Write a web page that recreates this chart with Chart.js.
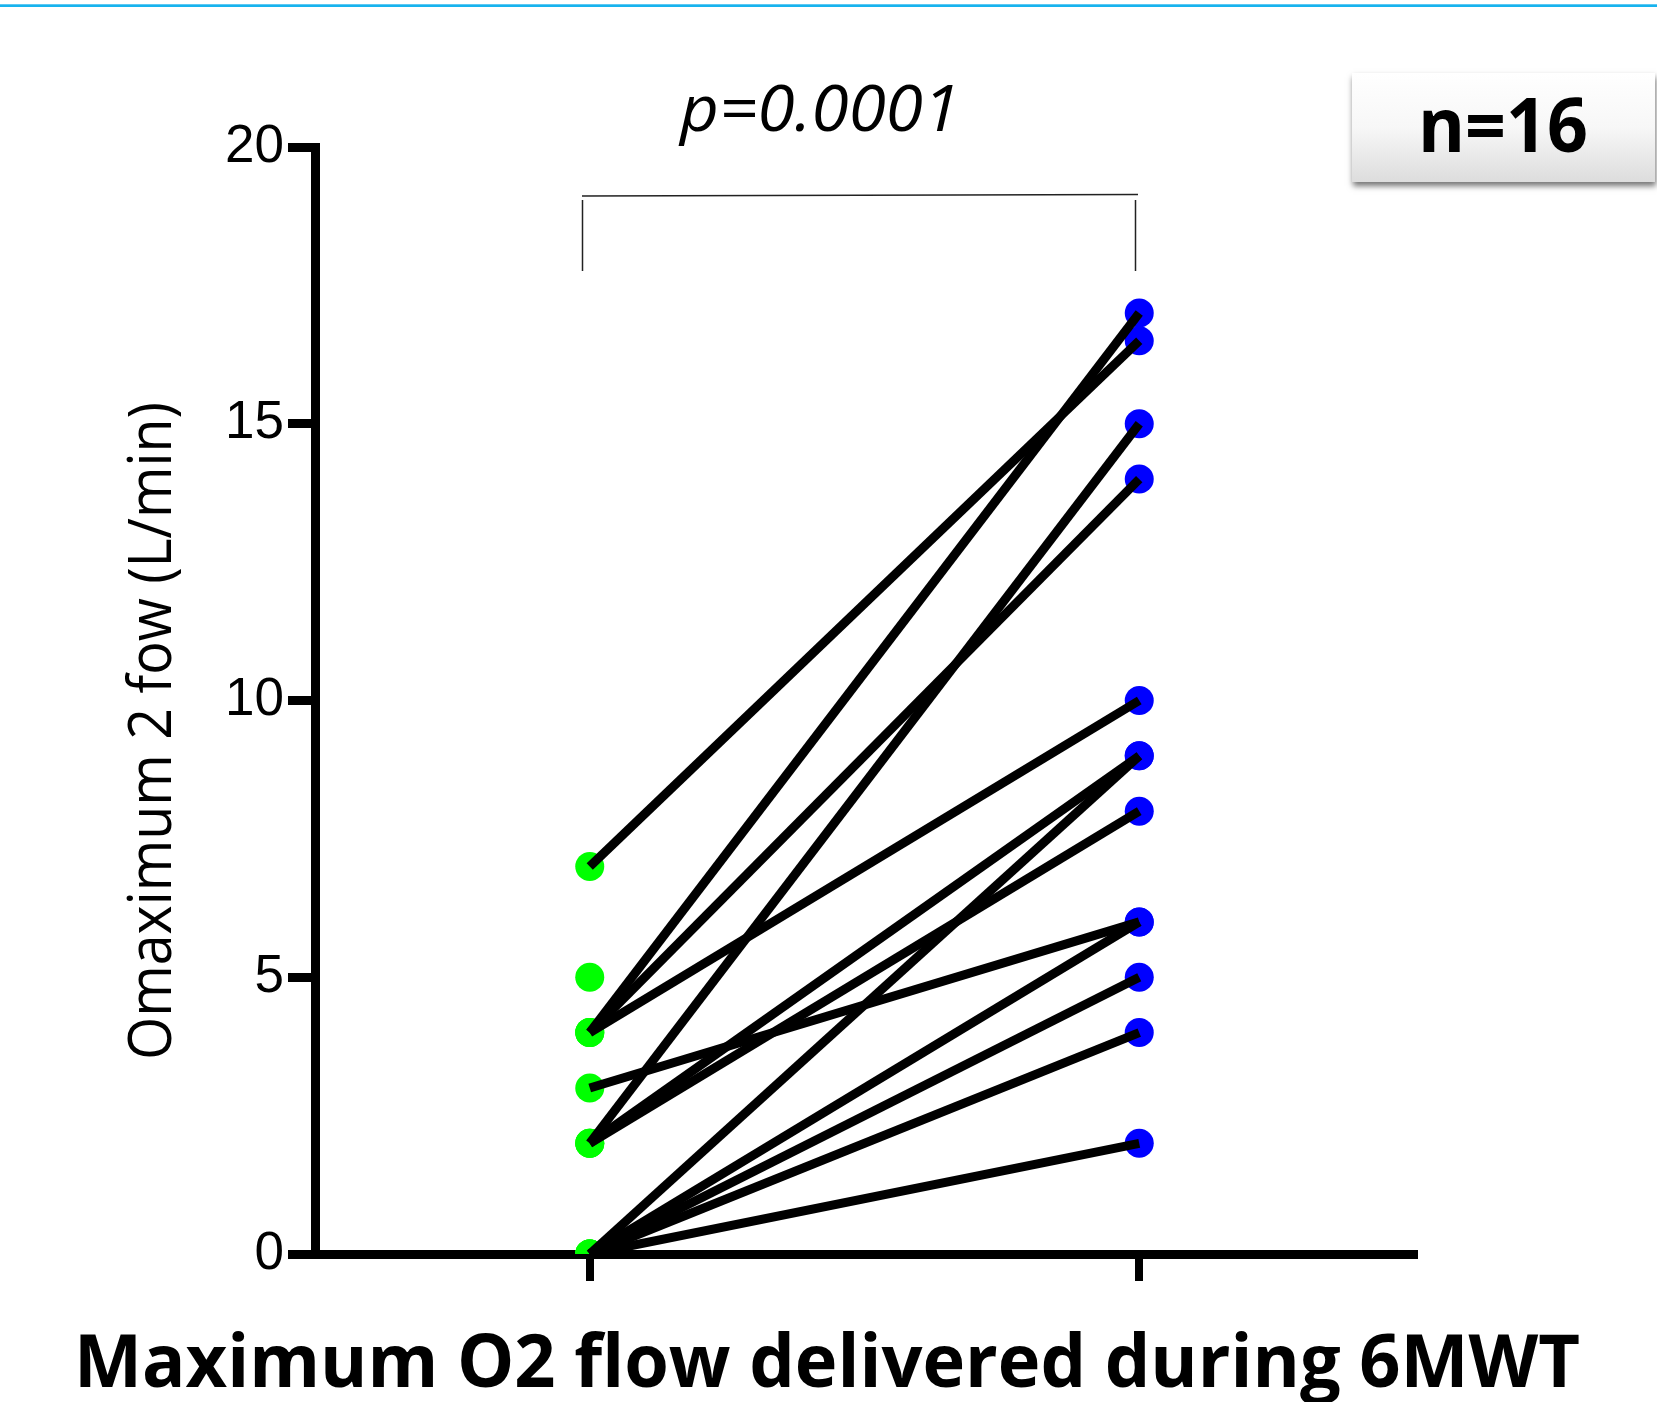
<!DOCTYPE html>
<html><head><meta charset="utf-8">
<script src="https://cdn.jsdelivr.net/npm/chart.js@4.4.1/dist/chart.umd.min.js"></script>
<style>html,body{margin:0;padding:0;background:#fff;}canvas{display:block;}</style>
</head><body>
<canvas id="c" width="1657" height="1402"></canvas>
<script>
// ---- data ----
const categories = ['Baseline', 'During 6MWT'];
const categoryX = [1, 2];
const preValues  = [7, 4, 4, 4, 2, 2, 2, 0, 3, 0, 0, 0, 0, 5];
const postValues = [16.5, 17, 14, 10, 15, 9, 8, 9, 6, 6, 5, 4, 2, null];
const yTicks = [0, 5, 10, 15, 20];
const pValueText = 'p=0.0001';
const nText = 'n=16';
const xTitle = 'Maximum O2 flow delivered during 6MWT';
const yTitle = 'Omaximum 2 fow (L/min)';

// ---- datasets ----
const datasets = [];
preValues.forEach((p, i) => {
  const q = postValues[i];
  if (q === null || q === undefined) return;
  datasets.push({
    type: 'line',
    label: 'patient ' + (i + 1),
    data: [{x: categoryX[0], y: p}, {x: categoryX[1], y: q}],
    borderColor: '#000',
    borderWidth: 9,
    borderCapStyle: 'butt',
    pointRadius: 0,
    fill: false,
    order: 0
  });
});
datasets.push({
  type: 'scatter',
  label: categories[0],
  data: preValues.map(v => ({x: categoryX[0], y: v})),
  backgroundColor: '#00ff00',
  borderWidth: 0,
  pointRadius: 14.5,
  order: 1
});
datasets.push({
  type: 'scatter',
  label: categories[1],
  data: postValues.filter(v => v !== null).map(v => ({x: categoryX[1], y: v})),
  backgroundColor: '#0000ff',
  borderWidth: 0,
  pointRadius: 14.5,
  order: 1
});

function fitText(ctx, text, font, x, y, width, align) {
  ctx.save();
  ctx.font = font;
  const w = ctx.measureText(text).width;
  const s = width / w;
  ctx.translate(x, y);
  ctx.scale(s, 1);
  ctx.textAlign = align || 'center';
  ctx.textBaseline = 'alphabetic';
  ctx.fillText(text, 0, 0);
  ctx.restore();
}

const decor = {
  id: 'decor',
  beforeDraw(chart) {
    const ctx = chart.ctx;
    ctx.save();
    ctx.fillStyle = '#fff';
    ctx.fillRect(0, 0, chart.width, chart.height);
    ctx.fillStyle = '#5cc8f2';
    ctx.fillRect(0, 4, chart.width, 1);
    ctx.fillStyle = '#17b3ee';
    ctx.fillRect(0, 5, chart.width, 2);
    ctx.restore();
  },
  afterDraw(chart) {
    const ctx = chart.ctx;
    ctx.save();
    ctx.fillStyle = '#000';
    // p-value
    fitText(ctx, pValueText, 'italic 64px "Open Sans"', 820, 131, 280);
    // bracket
    ctx.strokeStyle = '#222';
    ctx.lineWidth = 1.5;
    ctx.beginPath();
    ctx.moveTo(582, 196); ctx.lineTo(1138, 194.5);
    ctx.moveTo(582.5, 200); ctx.lineTo(582.5, 271);
    ctx.moveTo(1135.5, 200); ctx.lineTo(1135.5, 271);
    ctx.stroke();
    // n box
    ctx.save();
    ctx.shadowColor = 'rgba(0,0,0,0.55)';
    ctx.shadowBlur = 6;
    ctx.shadowOffsetX = 1;
    ctx.shadowOffsetY = 4;
    const g = ctx.createLinearGradient(0, 73, 0, 183);
    g.addColorStop(0, '#ffffff');
    g.addColorStop(0.5, '#f7f7f7');
    g.addColorStop(1, '#dcdcdc');
    ctx.fillStyle = g;
    ctx.fillRect(1352, 73, 303, 109);
    ctx.restore();
    ctx.fillStyle = '#000';
    fitText(ctx, nText, 'bold 76px "Open Sans"', 1503, 152, 170);
    // x title
    fitText(ctx, xTitle, 'bold 74px "Open Sans"', 827, 1387, 1506);
    // y title
    ctx.save();
    ctx.translate(171, 731);
    ctx.rotate(-Math.PI / 2);
    fitText(ctx, yTitle, '60px "Open Sans"', 0, 0, 658);
    ctx.restore();
    ctx.restore();
  }
};

new Chart(document.getElementById('c'), {
  data: { datasets },
  options: {
    responsive: false,
    devicePixelRatio: 1,
    animation: false,
    events: [],
    layout: { padding: { left: 195, top: 147, right: 243, bottom: 118 } },
    plugins: { legend: { display: false }, tooltip: { enabled: false }, title: { display: false } },
    scales: {
      x: {
        type: 'linear',
        min: 0.5, max: 2.5,
        afterBuildTicks: s => { s.ticks = categoryX.map(v => ({value: v})); },
        afterFit: s => { s.height = 30; },
        ticks: { display: false },
        grid: { display: true, drawOnChartArea: false, drawTicks: true, tickLength: 27, lineWidth: 8, color: '#000' },
        border: { display: true, color: '#000', width: 9 }
      },
      y: {
        type: 'linear',
        min: 0, max: 20,
        afterBuildTicks: s => { s.ticks = yTicks.map(v => ({value: v})); },
        afterFit: s => { s.width = 120; },
        ticks: { color: '#000', padding: 4, font: { family: '"Liberation Sans", Arial, sans-serif', size: 53 } },
        grid: { display: true, drawOnChartArea: false, drawTicks: true, tickLength: 27, lineWidth: 9, color: '#000' },
        border: { display: true, color: '#000', width: 9 }
      }
    }
  },
  plugins: [decor]
});
</script>
</body></html>
